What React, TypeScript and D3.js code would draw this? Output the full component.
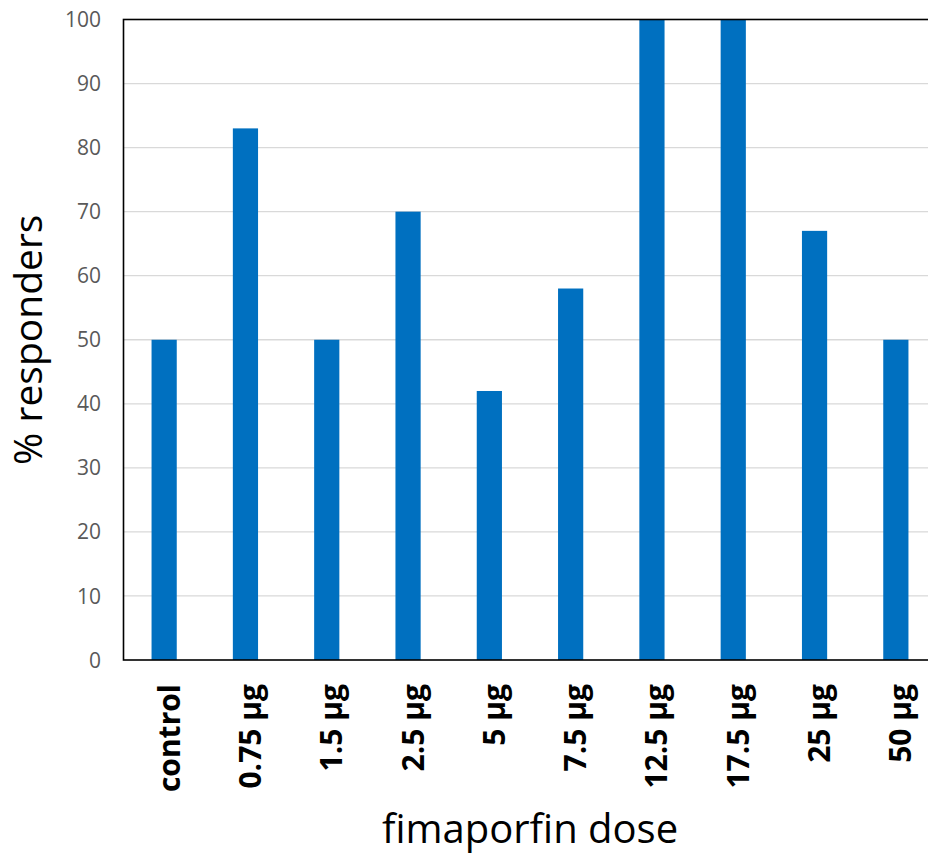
import { useEffect, useRef } from 'react';
import * as d3 from 'd3';

const doses = ['control', '0.75 µg', '1.5 µg', '2.5 µg', '5 µg', '7.5 µg', '12.5 µg', '17.5 µg', '25 µg', '50 µg'];
const responders = [50, 83, 50, 70, 42, 58, 100, 100, 67, 50];
const yTicks = [0, 10, 20, 30, 40, 50, 60, 70, 80, 90, 100];

const WIDTH = 928;
const HEIGHT = 862;
// plot area runs past the right edge of the picture, like the reference
const PLOT = { left: 123.5, right: 936.5, top: 19.5, bottom: 660 };
const BAR_COLOR = '#0070C0';
const FONT = '"Open Sans", "Noto Sans", sans-serif';

export default function App() {
  const svgRef = useRef<SVGSVGElement>(null);

  useEffect(() => {
    if (!svgRef.current) return;
    const svg = d3.select(svgRef.current);
    svg.selectAll('*').remove();

    const x = d3
      .scaleBand()
      .domain(doses)
      .range([PLOT.left, PLOT.right])
      .paddingInner(0.69)
      .paddingOuter(0.345);
    const y = d3.scaleLinear().domain([0, 100]).range([PLOT.bottom, PLOT.top]);

    // gridlines
    svg
      .append('g')
      .selectAll('line')
      .data(yTicks.filter(t => t > 0 && t < 100))
      .enter()
      .append('line')
      .attr('x1', PLOT.left)
      .attr('x2', PLOT.right)
      .attr('y1', (d: number) => y(d))
      .attr('y2', (d: number) => y(d))
      .attr('stroke', '#d9d9d9')
      .attr('stroke-width', 1.3);

    // bars
    svg
      .append('g')
      .selectAll('rect')
      .data(doses)
      .enter()
      .append('rect')
      .attr('x', (d: string) => x(d) ?? 0)
      .attr('width', x.bandwidth())
      .attr('y', (_d: string, i: number) => y(responders[i]))
      .attr('height', (_d: string, i: number) => y(0) - y(responders[i]))
      .attr('fill', BAR_COLOR);

    // plot border
    svg
      .append('rect')
      .attr('x', PLOT.left)
      .attr('y', PLOT.top)
      .attr('width', PLOT.right - PLOT.left)
      .attr('height', PLOT.bottom - PLOT.top)
      .attr('fill', 'none')
      .attr('stroke', '#000000')
      .attr('stroke-width', 1.6);

    // y tick labels
    svg
      .append('g')
      .selectAll('text')
      .data(yTicks)
      .enter()
      .append('text')
      .attr('x', 101)
      .attr('y', (d: number) => y(d))
      .attr('dy', '0.36em')
      .attr('text-anchor', 'end')
      .attr('font-family', FONT)
      .attr('font-size', '21px')
      .attr('fill', '#595959')
      .text((d: number) => `${d}`);

    // x category labels, rotated
    svg
      .append('g')
      .selectAll('text')
      .data(doses)
      .enter()
      .append('text')
      .attr('transform', (d: string) => `translate(${(x(d) ?? 0) + x.bandwidth() / 2}, 684) rotate(-90)`)
      .attr('dy', 15.5)
      .attr('text-anchor', 'end')
      .attr('font-family', FONT)
      .attr('font-size', '30px')
      .attr('font-weight', 700)
      .attr('fill', '#000000')
      .text((d: string) => d);

    // x axis title
    svg
      .append('text')
      .attr('x', (PLOT.left + PLOT.right) / 2)
      .attr('y', 843)
      .attr('text-anchor', 'middle')
      .attr('font-family', FONT)
      .attr('font-size', '40px')
      .attr('fill', '#000000')
      .text('fimaporfin dose');

    // y axis title
    svg
      .append('text')
      .attr('transform', `translate(42, ${(PLOT.top + PLOT.bottom) / 2}) rotate(-90)`)
      .attr('text-anchor', 'middle')
      .attr('font-family', FONT)
      .attr('font-size', '39px')
      .attr('fill', '#000000')
      .text('% responders');
  }, []);

  return (
    <svg
      ref={svgRef}
      width={WIDTH}
      height={HEIGHT}
      style={{ position: 'absolute', left: 0, top: 0, background: '#ffffff', display: 'block' }}
    />
  );
}
